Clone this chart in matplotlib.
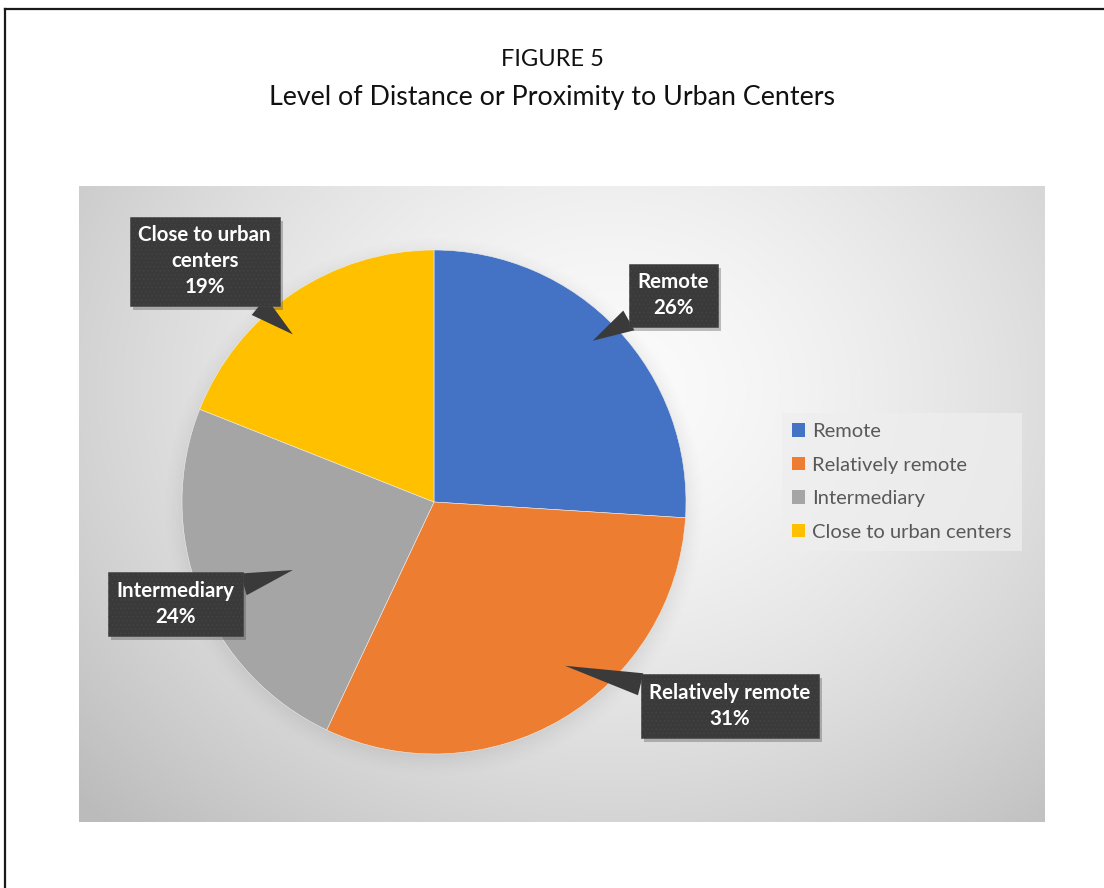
import numpy as np
import matplotlib
matplotlib.use("Agg")
import matplotlib.pyplot as plt
from matplotlib.lines import Line2D
from matplotlib.patches import Rectangle
from matplotlib.transforms import IdentityTransform

# ---- data -------------------------------------------------------------
categories = ["Remote", "Relatively remote", "Intermediary", "Close to urban centers"]
shares = [26, 31, 24, 19]
callout_text = ["Remote", "Relatively remote", "Intermediary", "Close to urban\ncenters"]
colors = ["#4472C4", "#ED7D31", "#A5A5A5", "#FFC000"]

title_line1 = "FIGURE 5"
title_line2 = "Level of Distance or Proximity to Urban Centers"

# callout box centres and pointer tips, in pie data units (radius = 1)
callout_xy = [(0.95, 0.82), (1.175, -0.81), (-1.025, -0.405), (-0.91, 0.955)]
pointer_xy = [(0.63, 0.64), (0.52, -0.65), (-0.56, -0.27), (-0.56, 0.665)]

W, H = 1104, 888
fig = plt.figure(figsize=(W / 100, H / 100), dpi=100)
fig.patch.set_facecolor("white")

def fx(px):
    return px / W

def fy(py):
    return 1 - py / H

# page frame (top and left rules)
fig.add_artist(Line2D([fx(5.5), 1.0], [fy(9.5), fy(9.5)], color="#1a1a1a", lw=1.6))
fig.add_artist(Line2D([fx(5.5), fx(5.5)], [0.0, fy(9.5)], color="#1a1a1a", lw=1.6))

# titles
title_font = ["Lato", "DejaVu Sans"]
fig.text(0.5, fy(59), title_line1, ha="center", va="center", fontsize=17,
         family=title_font, color="#111111")
fig.text(0.5, fy(97), title_line2, ha="center", va="center", fontsize=19.3,
         family=title_font, color="#111111")

# chart area with radial grey gradient
x0, x1, y0, y1 = 79, 1045, 186, 822
bg = fig.add_axes([fx(x0), fy(y1), fx(x1 - x0), (y1 - y0) / H])
gx, gy = np.meshgrid(np.linspace(0, 1, 400), np.linspace(0, 1, 300))
r = np.sqrt(((gx - 0.55) / 0.75) ** 2 + ((gy - 0.32) / 0.95) ** 2)
r = np.clip(r, 0, 1)
shade = 0.985 - 0.25 * r ** 1.5
bg.imshow(np.dstack([shade, shade, shade]), extent=[0, 1, 0, 1], origin="upper",
          aspect="auto", interpolation="bilinear")
bg.set_axis_off()

# pie
cx, cy, R = 434, 502, 252
ax = fig.add_axes([fx(cx - R), fy(cy + R), 2 * R / W, 2 * R / H])
ax.set_axis_off()

# soft halo beneath the pie
hx, hy = np.meshgrid(np.linspace(-1.25, 1.25, 300), np.linspace(-1.25, 1.25, 300))
d = np.sqrt(hx ** 2 + (hy + 0.02) ** 2)
halo = np.clip(1 - (d - 0.95) / 0.13, 0, 1) ** 1.5 * 0.2
halo_img = np.zeros((300, 300, 4))
halo_img[..., :3] = 0.35
halo_img[..., 3] = halo
im = ax.imshow(halo_img, extent=[-1.25, 1.25, -1.25, 1.25], origin="lower",
               interpolation="bilinear", zorder=0)
im.set_clip_on(False)

wedges, _ = ax.pie(shares, colors=colors, startangle=90, counterclock=False,
                   radius=1.0, wedgeprops=dict(edgecolor="#eeeeee", linewidth=0.4))
for w in wedges:
    w.set_zorder(2)
ax.set_xlim(-1, 1)
ax.set_ylim(-1, 1)
ax.set_aspect("equal")

# dark callouts with pointers
plt.rcParams["hatch.color"] = "#4b4b4b"
plt.rcParams["hatch.linewidth"] = 0.5
label_font = ["Lato", "DejaVu Sans"]
callouts = []
for txt, val, xy, tip in zip(callout_text, shares, callout_xy, pointer_xy):
    ann = ax.annotate(
        f"{txt}\n{val}%", xy=tip, xytext=xy, ha="center", va="center",
        fontsize=14.8, fontweight="bold", family=label_font, linespacing=1.38,
        annotation_clip=False, color="white", zorder=5,
        bbox=dict(boxstyle="square,pad=0.42", fc="#3a3a3a", ec="#444444",
                  lw=0.4, hatch="...."),
        arrowprops=dict(arrowstyle="wedge,tail_width=1.1,shrink_factor=0.5",
                        fc="#3a3a3a", ec="none", shrinkA=0, shrinkB=0,
                        relpos=(0.5, 0.5)),
    )
    callouts.append(ann)

# drop shadows under the callout boxes
fig.canvas.draw()
for ann in callouts:
    bb = ann.get_bbox_patch().get_window_extent()
    ax.add_patch(Rectangle((bb.x0 + 3, bb.y0 - 4), bb.width, bb.height,
                           transform=IdentityTransform(), fc="#4d4d4d", ec="none",
                           alpha=0.35, zorder=4, clip_on=False))

# legend
leg = fig.legend(wedges, categories, loc="upper left",
                 bbox_to_anchor=(fx(782), fy(413)), bbox_transform=fig.transFigure,
                 prop=dict(family=label_font, size=14.5),
                 handlelength=0.65, handleheight=0.65, handletextpad=0.35,
                 labelspacing=0.82, borderpad=0.5, borderaxespad=0,
                 frameon=True, fancybox=False)
leg.get_frame().set_facecolor("#eeeeee")
leg.get_frame().set_alpha(0.75)
leg.get_frame().set_edgecolor("none")
for t in leg.get_texts():
    t.set_color("#595959")
for h in leg.legend_handles:
    h.set_edgecolor("none")

fig.savefig("out.png", dpi=100)
